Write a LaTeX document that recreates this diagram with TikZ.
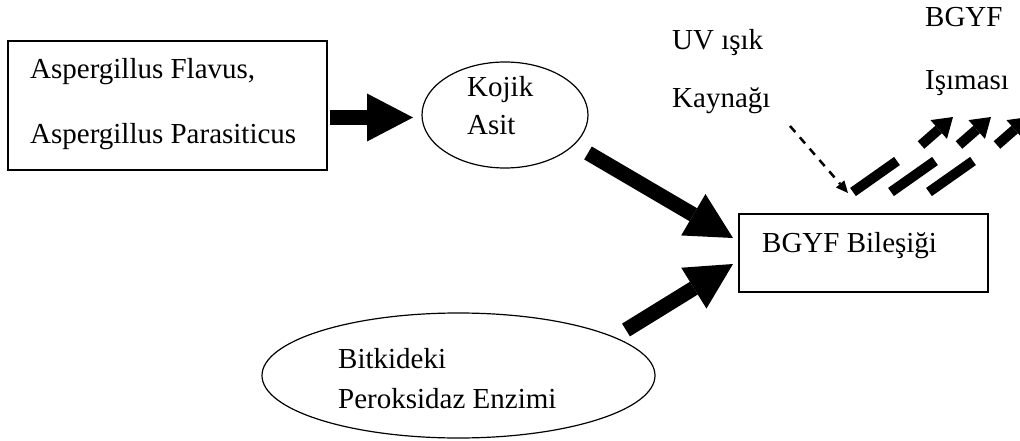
\documentclass[tikz,border=0pt]{standalone}
\usepackage{fontspec}
\setmainfont{Liberation Serif}
\usetikzlibrary{arrows.meta,shapes.geometric}
\begin{document}
\begin{tikzpicture}[x=1pt,y=-1pt,
  lbl/.style={anchor=base west,inner sep=0pt,font=\fontsize{29}{35}\selectfont},
  boxshape/.style={draw,line width=1.2pt,inner sep=0pt},
  ovalshape/.style={draw,ellipse,line width=1.2pt,inner sep=0pt},
  fatarrow/.style={line width=15pt,-{Triangle[length=46pt,width=48pt,line width=0pt]}},
  thinarrow/.style={line width=10pt,-{Triangle[length=19pt,width=25pt,line width=0pt]}},
  bar/.style={line width=10pt},
  dasharrow/.style={line width=2.5pt,dash pattern=on 8pt off 7pt,-{Triangle[length=12pt,width=11pt,line width=0pt]}}
]
\useasboundingbox (0,0) rectangle (1020,441);
% shapes
\node[boxshape,minimum width=319pt,minimum height=129pt] (src) at (167.5,105.5) {};
\node[ovalshape,minimum width=166pt,minimum height=106pt] (kojik) at (505,115) {};
\node[boxshape,minimum width=249pt,minimum height=78pt] (bgyf) at (863.5,253) {};
\node[ovalshape,minimum width=393pt,minimum height=125pt] (perox) at (458.5,375.5) {};
% texts
\node[lbl] (t1) at (30,79) {Aspergillus Flavus,};
\node[lbl] (t2) at (30,143) {Aspergillus Parasiticus};
\node[lbl] (t3) at (467,97) {Kojik};
\node[lbl] (t4) at (467,135) {Asit};
\node[lbl] (t5) at (762,252) {BGYF Bileşiği};
\node[lbl] (t6) at (338,368) {Bitkideki};
\node[lbl] (t7) at (338,408) {Peroksidaz Enzimi};
\node[lbl] (uv) at (672,50) {UV ışık};
\node[lbl] (uv2) at (672,108) {Kaynağı};
\node[lbl] (em) at (925,27) {BGYF};
\node[lbl] (em2) at (925,90) {Işıması};
% connector end points
\coordinate (a0s) at (330,117.5);
\coordinate (a0e) at (413,117.5);
\coordinate (a1s) at (588,153);
\coordinate (a1e) at (733,238);
\coordinate (a2s) at (626,330);
\coordinate (a2e) at (733,264);
\coordinate (ds) at (790,126);
\coordinate (de) at (848,193);
% fat arrows
\draw[fatarrow] (a0s) -- (a0e);
\draw[fatarrow] (a1s) -- (a1e);
\draw[fatarrow] (a2s) -- (a2e);
% UV dashed arrow
\draw[dasharrow] (ds) -- (de);
% bars
\coordinate (b1s) at (853,192); \coordinate (b1e) at (897,161);
\coordinate (b2s) at (891,192); \coordinate (b2e) at (935,161);
\coordinate (b3s) at (929,192); \coordinate (b3e) at (973,161);
\draw[bar] (b1s) -- (b1e);
\draw[bar] (b2s) -- (b2e);
\draw[bar] (b3s) -- (b3e);
% emission arrows
\coordinate (e1s) at (921,145); \coordinate (e1e) at (953,117);
\coordinate (e2s) at (959,145); \coordinate (e2e) at (991,117);
\coordinate (e3s) at (997,145); \coordinate (e3e) at (1029,117);
\draw[thinarrow] (e1s) -- (e1e);
\draw[thinarrow] (e2s) -- (e2e);
\draw[thinarrow] (e3s) -- (e3e);
\end{tikzpicture}
\end{document}
